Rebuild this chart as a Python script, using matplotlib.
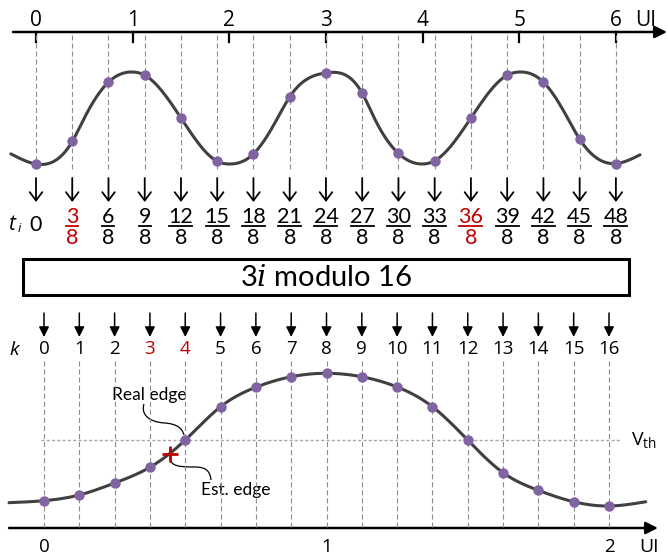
import numpy as np
import matplotlib
matplotlib.use('Agg')
from matplotlib import pyplot as plt
from matplotlib.transforms import blended_transform_factory
from matplotlib.patches import Rectangle, PathPatch
from matplotlib.path import Path

plt.rcParams['font.family'] = ['Open Sans', 'DejaVu Sans']
plt.rcParams['mathtext.fontset'] = 'custom'
plt.rcParams['mathtext.rm'] = 'Open Sans'
plt.rcParams['mathtext.it'] = 'Open Sans:italic'
plt.rcParams['mathtext.cal'] = 'DejaVu Serif:italic'
plt.rcParams['lines.scale_dashes'] = False

# ---- data: top waveform (x in UI, level -1..1) ----
ui_ticks = [0, 1, 2, 3, 4, 5, 6]
t_num = [0, 3, 6, 9, 12, 15, 18, 21, 24, 27, 30, 33, 36, 39, 42, 45, 48]
t_den = 8
top_levels = [-1.0, -0.51, 0.78, 0.93, 0.0, -0.94, -0.78, 0.46, 0.98,
              0.54, -0.77, -0.93, 0.0, 0.93, 0.78, -0.46, -0.99]
top_red = [1, 12]
# extra points of the drawn curve (ends, peaks, troughs, mid crossings)
wave_u = [-0.26, 0.5, 1.0, 2.0, 2.5, 3.5, 4.0, 5.0, 5.5, 6.25]
wave_lv = [-0.78, 0.0, 1.0, -1.0, 0.0, 0.0, -1.0, 1.0, 0.0, -0.80]

# ---- data: bottom waveform (x in UI, level 0..1) ----
k_vals = list(range(17))
bot_levels = [0.04, 0.083, 0.173, 0.292, 0.497, 0.748, 0.895, 0.974, 1.0,
              0.974, 0.897, 0.748, 0.497, 0.251, 0.118, 0.032, 0.0]
bot_red = [3, 4]
bot_end_u = [-0.124, 2.13]
bot_end_lv = [0.025, 0.032]
bot_ui_ticks = [0, 1, 2]
vth = 0.5
est_u, est_lv = 0.445, 0.392

W, H = 668, 558
TOP_X0, TOP_UI, TOP_MID, TOP_AMP = 36, 96.65, 118, 46
BOT_X0, BOT_UI, BOT_BASE, BOT_AMP = 44, 282.5, 506, 132.7

CURVE = '#404040'
DOT = '#8064a2'
RED = '#c00000'
DASH = '#8c8c8c'


def spline(x, y, xs):
    # natural cubic spline through the read points
    x = np.asarray(x, float); y = np.asarray(y, float)
    n = len(x); h = np.diff(x)
    A = np.zeros((n, n)); r = np.zeros(n)
    A[0, 0] = 1; A[-1, -1] = 1
    for i in range(1, n - 1):
        A[i, i-1] = h[i-1]; A[i, i] = 2*(h[i-1] + h[i]); A[i, i+1] = h[i]
        r[i] = 6*((y[i+1] - y[i])/h[i] - (y[i] - y[i-1])/h[i-1])
    M = np.linalg.solve(A, r)
    i = np.clip(np.searchsorted(x, xs) - 1, 0, n - 2)
    a = x[i+1] - xs; b = xs - x[i]; hi = h[i]
    return (M[i]*a**3/(6*hi) + M[i+1]*b**3/(6*hi)
            + (y[i]/hi - M[i]*hi/6)*a + (y[i+1]/hi - M[i+1]*hi/6)*b)


fig = plt.figure(figsize=(W/100, H/100), dpi=100)
bg = fig.add_axes([0, 0, 1, 1])
bg.set_xlim(0, W); bg.set_ylim(H, 0); bg.axis('off')

ax_top = fig.add_axes([0, 0, 1, 1])
ax_top.set_xlim(-TOP_X0/TOP_UI, (W-TOP_X0)/TOP_UI)
ax_top.set_ylim((TOP_MID-H)/TOP_AMP, TOP_MID/TOP_AMP)
ax_top.axis('off'); ax_top.patch.set_alpha(0)

ax_bot = fig.add_axes([0, 0, 1, 1])
ax_bot.set_xlim(-BOT_X0/BOT_UI, (W-BOT_X0)/BOT_UI)
ax_bot.set_ylim((BOT_BASE-H)/BOT_AMP, BOT_BASE/BOT_AMP)
ax_bot.axis('off'); ax_bot.patch.set_alpha(0)

tt = blended_transform_factory(ax_top.transData, bg.transData)
tb = blended_transform_factory(ax_bot.transData, bg.transData)

# ---------------- top section ----------------
bg.annotate('', xy=(667, 32), xytext=(13, 32),
            arrowprops=dict(arrowstyle='-|>', lw=1.8, color='k', mutation_scale=18,
                            shrinkA=0, shrinkB=0))
for u in ui_ticks:
    ax_top.plot([u, u], [32, 41.5], color='k', lw=1.6, transform=tt)
    ax_top.text(u, 21, str(u), fontsize=15, ha='center', va='center', transform=tt)
bg.text(646, 21, 'UI', fontsize=15, ha='center', va='center')

t_ui = np.array(t_num) / t_den
for i, u in enumerate(t_ui):
    ax_top.plot([u, u], [35, 172], color=DASH, lw=0.8, dashes=(3.6, 2.2), transform=tt)
    ax_top.annotate('', xy=(u, 202), xytext=(u, 178), xycoords=tt, textcoords=tt,
                    arrowprops=dict(arrowstyle='->,head_length=0.6,head_width=0.45',
                                    lw=1.3, color='k', mutation_scale=10,
                                    shrinkA=0, shrinkB=0))
    col = RED if i in top_red else 'k'
    if t_num[i] == 0:
        ax_top.text(u, 225, '0', fontsize=15.5, ha='center', va='center',
                    color=col, family='Lato', transform=tt)
        continue
    ax_top.text(u, 217, str(t_num[i]), fontsize=15.5, ha='center', va='center',
                color=col, family='Lato', transform=tt)
    ax_top.text(u, 238, str(t_den), fontsize=15.5, ha='center', va='center',
                color=col, family='Lato', transform=tt)
    hw = (6 if t_num[i] < 10 else 11.5) / TOP_UI
    ax_top.plot([u - hw, u + hw], [225.5, 225.5], color=col, lw=1.3, transform=tt)

bg.text(13, 224, '$t$', fontsize=15, ha='center', va='center')
bg.text(19.5, 229, '$i$', fontsize=9.5, ha='center', va='center')

cu = np.concatenate([t_ui, wave_u])
cl = np.concatenate([top_levels, wave_lv])
order = np.argsort(cu)
xs = np.linspace(cu.min(), cu.max(), 1000)
ax_top.plot(xs, spline(cu[order], cl[order], xs), color=CURVE, lw=2.2,
            solid_capstyle='round', zorder=3)
ax_top.plot(t_ui, top_levels, 'o', color=DOT, ms=7.5, mec='none', zorder=4)

# ---------------- box ----------------
bg.add_patch(Rectangle((22.5, 259), 606, 36, fill=False, lw=2.2, ec='k'))
bg.text(326, 277.5, r'3$\mathcal{i}$ modulo 16', fontsize=21, ha='center', va='center',
        family='Lato')

# ---------------- bottom section ----------------
k_ui = np.array(k_vals) / 8
bg.text(15, 350, '$k$', fontsize=14, ha='center', va='center')
for k, u in zip(k_vals, k_ui):
    ax_bot.annotate('', xy=(u, 337), xytext=(u, 313), xycoords=tb, textcoords=tb,
                    arrowprops=dict(arrowstyle='-|>,head_length=0.6,head_width=0.3',
                                    lw=1.1, color='k', mutation_scale=10,
                                    shrinkA=0, shrinkB=0))
    col = RED if k in bot_red else 'k'
    ax_bot.text(u, 349.5, str(k), fontsize=13.5, ha='center', va='center',
                color=col, transform=tb)
    ax_bot.plot([u, u], [361, 527], color=DASH, lw=0.8, dashes=(3.6, 2.2), transform=tb)

ax_bot.plot([-0.01, 2.04], [vth, vth], color='#a6a6a6', lw=1.0, dashes=(2.2, 1.6))
bg.text(631, 440, r'V$_{\rm th}$', fontsize=14, ha='left', va='center')

bg.annotate('', xy=(658, 528), xytext=(9, 528),
            arrowprops=dict(arrowstyle='-|>', lw=1.8, color='k', mutation_scale=18,
                            shrinkA=0, shrinkB=0))
for u in bot_ui_ticks:
    ax_bot.text(u, 547, str(u), fontsize=13.5, ha='center', va='center', transform=tb)
bg.text(649, 547, 'UI', fontsize=14, ha='center', va='center')

bu = np.concatenate([[bot_end_u[0]], k_ui, [bot_end_u[1]]])
bl = np.concatenate([[bot_end_lv[0]], bot_levels, [bot_end_lv[1]]])
xs = np.linspace(bu[0], bu[-1], 1000)
ax_bot.plot(xs, spline(bu, bl, xs), color=CURVE, lw=2.2, solid_capstyle='round', zorder=3)
ax_bot.plot(k_ui, bot_levels, 'o', color=DOT, ms=7.5, mec='none', zorder=4)
ax_bot.plot(est_u, est_lv, '+', color=RED, ms=11, mew=2.0, zorder=5)

# annotations with curved leaders
bg.text(149, 395, 'Real edge', fontsize=12.5, ha='center', va='center', family='Lato')
bg.text(236, 490, 'Est. edge', fontsize=12.5, ha='center', va='center', family='Lato')
lead1 = Path([(144, 404), (141, 413), (147, 422), (165, 423),
              (177, 424), (182, 428), (184, 435)],
             [Path.MOVETO, Path.CURVE4, Path.CURVE4, Path.CURVE4,
              Path.CURVE4, Path.CURVE4, Path.CURVE4])
lead2 = Path([(170, 458), (171, 466), (178, 467), (195, 467),
              (206, 467), (210, 471), (211, 480)],
             [Path.MOVETO, Path.CURVE4, Path.CURVE4, Path.CURVE4,
              Path.CURVE4, Path.CURVE4, Path.CURVE4])
for p in (lead1, lead2):
    bg.add_patch(PathPatch(p, fill=False, lw=0.9, ec='k'))

fig.savefig('out.png', dpi=100)
